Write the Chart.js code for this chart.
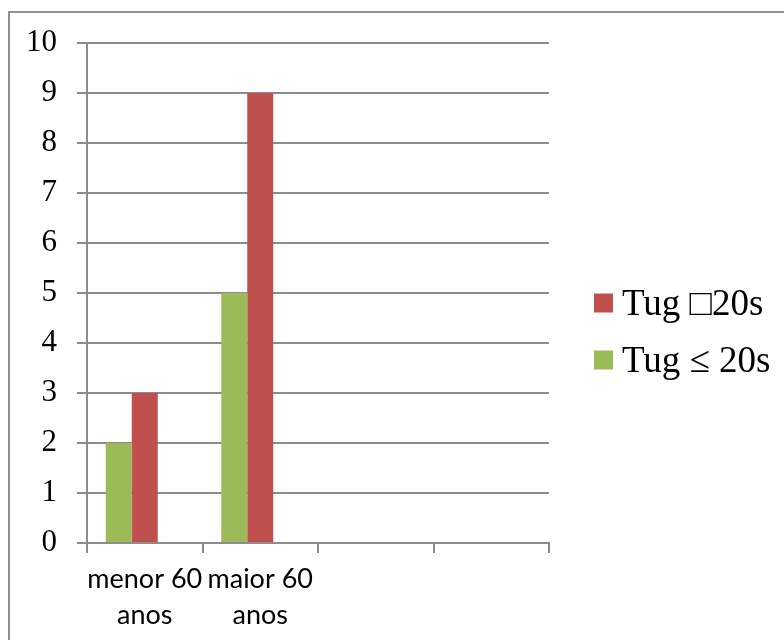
<!DOCTYPE html>
<html>
<head>
<meta charset="utf-8">
<script src="https://cdn.jsdelivr.net/npm/chart.js@4"></script>
<style>
  html, body { margin: 0; padding: 0; background: #ffffff; }
  canvas { display: block; }
</style>
</head>
<body>
<canvas id="chart" width="784" height="640"></canvas>
<script>
// Age groups on the x axis (two empty slots keep the axis four categories wide)
const categories = [["menor 60", "anos"], ["maior 60", "anos"], "", ""];
// Counts per TUG result
const tugAte20 = [2, 5, null, null];      // Tug ≤ 20s
const tugAcima20 = [3, 9, null, null];    // Tug □20s
const serieVazia = [null, null, null, null];
const seriesLabels = ["Tug \u2264 20s", "Tug \u25A120s", ""];
const yTicks = [0, 1, 2, 3, 4, 5, 6, 7, 8, 9, 10];

const GREEN = "#9BBB59";
const RED = "#C0504D";
const GRID = "#8c8c8c";

// Frame lines along the top and left of the drawing
const framePlugin = {
  id: "frame",
  beforeDraw(chart) {
    const ctx = chart.ctx;
    ctx.save();
    ctx.fillStyle = "#ffffff";
    ctx.fillRect(0, 0, chart.width, chart.height);
    ctx.strokeStyle = "#909090";
    ctx.lineWidth = 2;
    ctx.beginPath();
    ctx.moveTo(9, chart.height + 5);
    ctx.lineTo(9, 12);
    ctx.lineTo(chart.width + 5, 12);
    ctx.stroke();
    ctx.restore();
  }
};

// Legend drawn on the right, series listed last-to-first
const sideLegend = {
  id: "sideLegend",
  afterDraw(chart) {
    const ctx = chart.ctx;
    const items = chart.data.datasets
      .filter(d => d.label)
      .slice()
      .reverse();
    const x = 594, box = 19;
    const rows = [303, 360];
    ctx.save();
    ctx.font = "37px 'Liberation Serif', 'DejaVu Serif', serif";
    ctx.textBaseline = "middle";
    ctx.textAlign = "left";
    items.forEach((ds, i) => {
      const cy = rows[i];
      ctx.fillStyle = ds.backgroundColor;
      ctx.fillRect(x, cy - box / 2, box, box);
      ctx.fillStyle = "#000000";
      ctx.fillText(ds.label, x + 28, cy + 2);
    });
    ctx.restore();
  }
};

new Chart(document.getElementById("chart"), {
  type: "bar",
  data: {
    labels: categories,
    datasets: [
      { label: seriesLabels[0], data: tugAte20, backgroundColor: GREEN },
      { label: seriesLabels[1], data: tugAcima20, backgroundColor: RED },
      { label: seriesLabels[2], data: serieVazia, backgroundColor: "#8064A2" }
    ]
  },
  options: {
    responsive: false,
    devicePixelRatio: 1,
    animation: false,
    layout: { padding: { top: 43, right: 235, left: 0, bottom: 0 } },
    datasets: {
      bar: { categoryPercentage: 0.675, barPercentage: 1.0, borderWidth: 0 }
    },
    plugins: {
      legend: { display: false },
      tooltip: { enabled: false }
    },
    scales: {
      x: {
        offset: true,
        afterFit(scale) { scale.height = 97; },
        grid: {
          offset: true,
          drawOnChartArea: false,
          drawTicks: true,
          tickLength: 10,
          color: GRID,
          lineWidth: 2
        },
        border: { display: true, color: GRID, width: 2 },
        ticks: {
          color: "#000000",
          font: { family: "Lato, 'Open Sans', sans-serif", size: 27, lineHeight: 1.35 },
          padding: 8,
          maxRotation: 0,
          autoSkip: false
        }
      },
      y: {
        min: 0,
        max: 10,
        afterFit(scale) { scale.width = 87; },
        afterBuildTicks(scale) { scale.ticks = yTicks.map(v => ({ value: v })); },
        grid: {
          color: GRID,
          lineWidth: 2,
          tickLength: 10,
          drawTicks: true
        },
        border: { display: true, color: GRID, width: 2 },
        ticks: {
          color: "#000000",
          font: { family: "'Liberation Serif', 'DejaVu Serif', serif", size: 31 },
          padding: 20,
          stepSize: 1
        }
      }
    }
  },
  plugins: [framePlugin, sideLegend]
});
</script>
</body>
</html>
